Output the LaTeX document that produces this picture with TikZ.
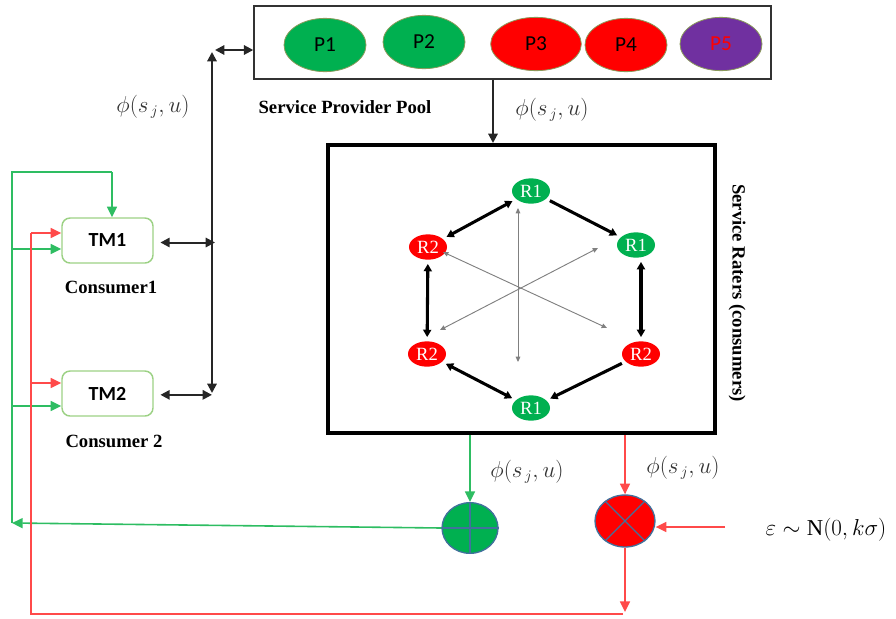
\documentclass[tikz,border=0pt]{standalone}
\usepackage{fontspec}
\setmainfont{Liberation Serif}
\newfontfamily\calfont{Carlito}
\usetikzlibrary{arrows.meta,shapes.geometric,calc}

\definecolor{okgreen}{HTML}{00B050}
\definecolor{fbgreen}{HTML}{2EBD62}
\definecolor{fbred}{HTML}{FF4A4A}
\definecolor{tmborder}{HTML}{9CD184}
\definecolor{pred}{HTML}{FF0000}
\definecolor{ppurple}{HTML}{7030A0}
\definecolor{circedge}{HTML}{41719C}
\definecolor{ovaledge}{HTML}{8A9A5B}

\begin{document}
\begin{tikzpicture}[x=0.75pt,y=-0.75pt,
  poolbox/.style={draw=black!80, line width=1.1pt, minimum width=387.75pt,
    minimum height=55pt, inner sep=0pt},
  provider/.style={ellipse, draw=ovaledge, line width=0.6pt, minimum width=61.5pt,
    minimum height=40pt, inner sep=0pt, font=\calfont\fontsize{16}{16}\selectfont},
  ratersbox/.style={draw=black, line width=3pt, minimum width=290pt,
    minimum height=216pt, inner sep=0pt},
  rater/.style={ellipse, minimum width=28.5pt, minimum height=19pt, inner sep=0pt,
    text=white, font=\fontsize{14}{14}\selectfont},
  tmbox/.style={draw=tmborder, line width=1.1pt, rounded corners=6pt,
    minimum width=68.25pt, minimum height=33.75pt, inner sep=0pt,
    font=\calfont\bfseries\fontsize{15}{15}\selectfont},
  caption/.style={font=\bfseries\fontsize{14}{14}\selectfont, inner sep=0pt},
  philabel/.style={font=\fontsize{16}{16}\selectfont, text=black!80, inner sep=0pt},
  sumnode/.style={ellipse, draw=circedge, line width=1pt, inner sep=0pt},
  blk/.style={draw=black!85, line width=1.5pt},
  bothtips/.style={{Triangle[length=7pt,width=7pt]}-{Triangle[length=7pt,width=7pt]}},
  onetip/.style={-{Triangle[length=7pt,width=7pt]}},
  fbgline/.style={draw=fbgreen, line width=1.2pt},
  fbrline/.style={draw=fbred, line width=1.2pt},
  colortip/.style={-{Triangle[length=8pt,width=7.5pt]}},
  hexedge/.style={draw=black, line width=2.3pt, shorten <=3pt, shorten >=3pt},
  hextip/.style={-{Triangle[length=5.5pt,width=6pt]}},
  hexboth/.style={{Triangle[length=5.5pt,width=6pt]}-{Triangle[length=5.5pt,width=6pt]}},
  spoke/.style={draw=gray, line width=0.7pt,
    {Triangle[length=4pt,width=3.5pt]}-{Triangle[length=4pt,width=3.5pt]}}
]
\useasboundingbox (0,0) rectangle (896,618);

% ---------- service provider pool ----------
\node[poolbox] (pool) at (512.5,42.5) {};
\node[provider, fill=okgreen] (p1) at (325,45) {P1};
\node[provider, fill=okgreen] (p2) at (424,42) {P2};
\node[provider, fill=pred, minimum width=68pt] (p3) at (536,44) {P3};
\node[provider, fill=pred] (p4) at (626,45) {P4};
\node[provider, fill=ppurple, text=pred] (p5) at (721,44) {P5};
\node[caption] (poolname) at (345,107) {Service Provider Pool};

% ---------- service raters ----------
\node[ratersbox] (rbox) at (521.5,289) {};
\node[caption, rotate=-90] (ratername) at (737,293) {Service Raters (consumers)};

\node[rater, fill=okgreen] (r1t) at (531,191) {R1};
\node[rater, fill=okgreen] (r1r) at (636,245) {R1};
\node[rater, fill=pred]    (r2l) at (428,247) {R2};
\node[rater, fill=pred]    (r2bl) at (427,354) {R2};
\node[rater, fill=pred]    (r2br) at (641,354) {R2};
\node[rater, fill=okgreen] (r1b) at (531,408) {R1};

% ring of raters
\draw[hexedge, hexboth] (r1t) -- (r2l);
\draw[hexedge, hextip] (r1t) -- (r1r);
\draw[hexedge, hexboth] (r2l) -- (r2bl);
\draw[hexedge, hexboth] (r2br.north |- r1r.south) -- (r2br.north);
\draw[hexedge, hexboth] (r2bl) -- (r1b);
\draw[hexedge, hextip] (r2br) -- (r1b);

% spokes through the middle
\coordinate (sUp) at (518,208);
\coordinate (sDown) at (518,362);
\coordinate (sA1) at (443,252);
\coordinate (sA2) at (607,328);
\coordinate (sB1) at (598,248);
\coordinate (sB2) at (440,330);
\draw[spoke] (sUp) -- (sDown);
\draw[spoke] (sA1) -- (sA2);
\draw[spoke] (sB1) -- (sB2);

% pool feeds the raters
\coordinate (dropx) at (493,0);
\draw[blk, onetip] (pool.south -| dropx) -- (rbox.north -| dropx);
\node[philabel] (phiB) at (552,110) {$\phi(s_{\,j},u)$};

% ---------- consumers ----------
\node[tmbox] (tm1) at (107.5,240.5) {TM1};
\node[tmbox] (tm2) at (107.5,393.5) {TM2};
\node[caption] (c1) at (111,287) {Consumer1};
\node[caption] (c2) at (114,441) {Consumer 2};

% shared bus between consumers and the pool
\coordinate (busT) at (212,52);
\coordinate (busB) at (212,393);
\coordinate (busH) at (215,50);
\draw[blk, bothtips] (busT) -- (busB);
\draw[blk, bothtips] (busH) -- (busH -| pool.west);
\draw[blk, bothtips, shorten <=5pt] ([yshift=-1.5pt]tm1.east) -- ([yshift=-1.5pt]tm1.east -| busH);
\draw[blk, bothtips, shorten <=5pt] ([yshift=-1pt]tm2.east) -- ([yshift=-1pt]tm2.east -| busT);
\node[philabel] (phiA) at (153,107) {$\phi(s_{\,j},u)$};

% ---------- aggregation nodes ----------
\node[sumnode, fill=okgreen, minimum width=42pt, minimum height=38pt] (gsum) at (470,528) {};
\draw[circedge, line width=0.9pt] (gsum.north) -- (gsum.south) (gsum.west) -- (gsum.east);
\node[sumnode, fill=pred, minimum width=45pt, minimum height=39pt] (rsum) at (625,521) {};
\draw[circedge, line width=0.9pt] (rsum.135) -- (rsum.-45) (rsum.45) -- (rsum.-135);

\draw[fbgline, colortip] (rbox.south -| gsum) -- (gsum.north);
\draw[fbrline, colortip] (rbox.south -| rsum) -- (rsum.north);
\node[philabel] (phiC) at (527,472) {$\phi(s_{\,j},u)$};
\node[philabel] (phiD) at (683,468) {$\phi(s_{\,j},u)$};

\node[font=\fontsize{17}{17}\selectfont, inner sep=0pt] (eps) at (826,530) {$\varepsilon\sim\mathrm{N}(0,k\sigma)$};
\coordinate (noise) at (725,527);
\draw[fbrline, colortip] (noise) -- (noise -| rsum.east);

% ---------- green feedback loop ----------
\coordinate (gTop) at (12,172);
\coordinate (gBot) at (12,523);
\coordinate (gTopR) at (112,172);
\coordinate (g1) at (12,249);
\coordinate (g2) at (12,406);
\draw[fbgline] (gBot) -- (gTop) -- (gTopR);
\draw[fbgline, colortip] (gTopR) -- (gTopR |- tm1.north);
\draw[fbgline, colortip] (g1) -- (g1 -| tm1.west);
\draw[fbgline, colortip] (g2) -- (g2 -| tm2.west);
\draw[fbgline, colortip] (gsum.west) -- (gBot);

% ---------- red feedback loop ----------
\coordinate (rTop) at (31,233);
\coordinate (rMid) at (31,383);
\coordinate (rBotL) at (31,614);
\coordinate (rBotR) at (623,614);
\draw[fbrline, colortip] (rsum.south) -- ([yshift=1.5pt]rsum.south |- rBotR);
\draw[fbrline] (rBotR) -- (rBotL) -- (rTop);
\draw[fbrline, colortip] (rTop) -- (rTop -| tm1.west);
\draw[fbrline, colortip] (rMid) -- (rMid -| tm2.west);
\end{tikzpicture}
\end{document}
